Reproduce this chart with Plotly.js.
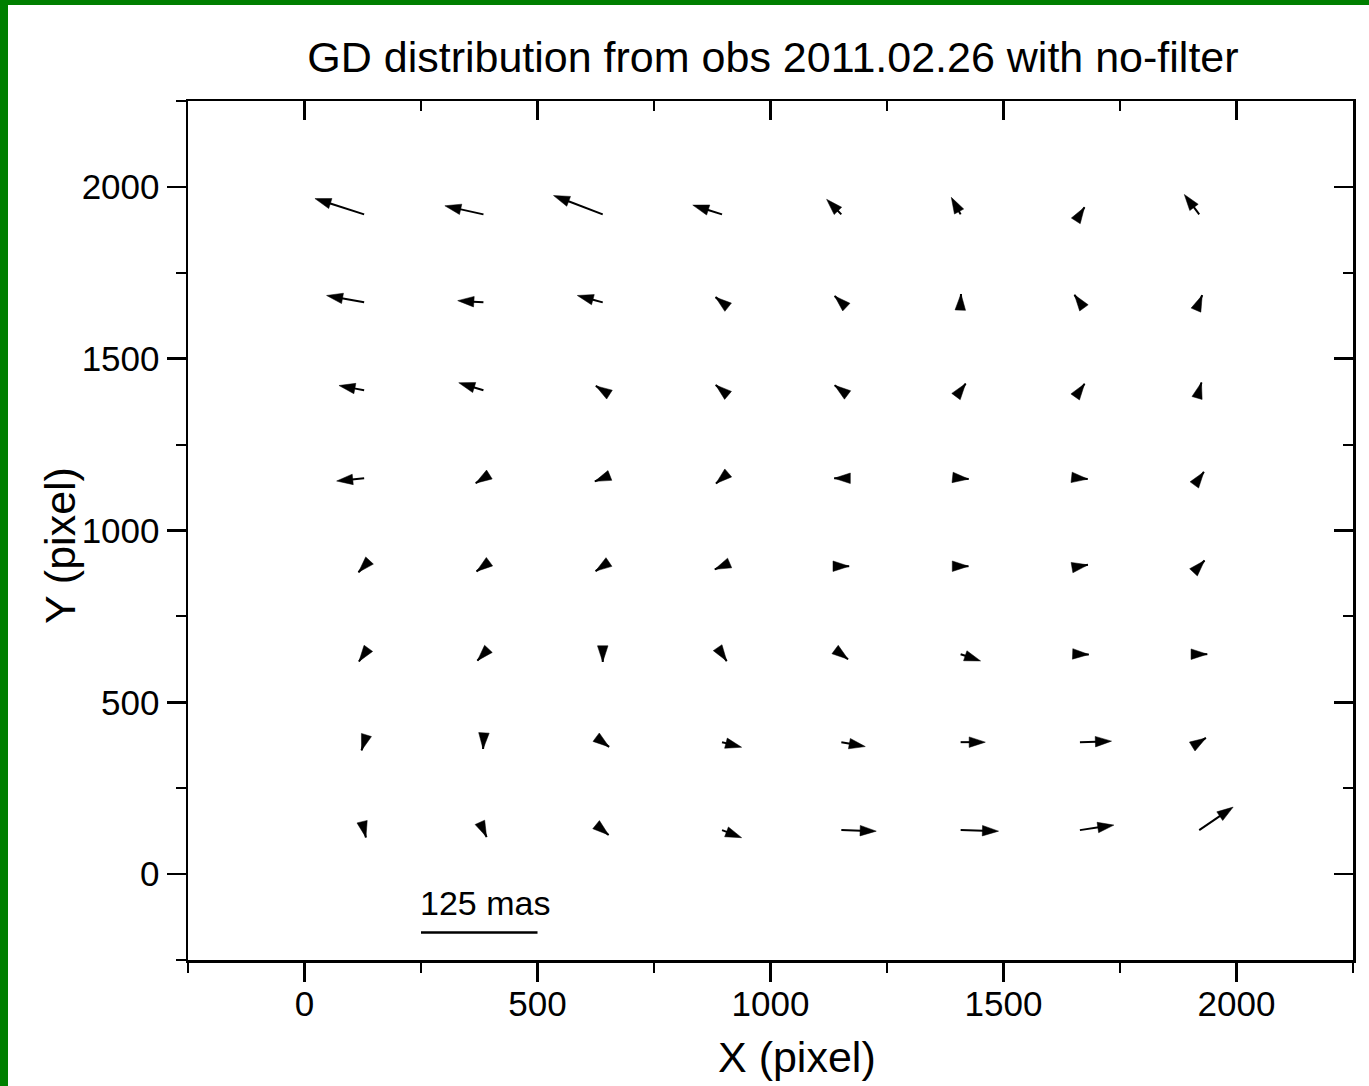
<!DOCTYPE html>
<html>
<head>
<meta charset="utf-8">
<script src="https://cdn.plot.ly/plotly-3.0.1.min.js"></script>
<style>
  html, body { margin: 0; padding: 0; background: #ffffff; }
  #wrap { position: relative; width: 1369px; height: 1086px; overflow: hidden; background: #ffffff; }
  #chart { position: absolute; left: 0; top: 0; width: 1369px; height: 1086px; }
  #gl { position: absolute; left: 0; top: 0; width: 8px; height: 1086px; background: #007f00; }
  #gt { position: absolute; left: 0; top: 0; width: 1369px; height: 5px; background: #007f00; }
</style>
</head>
<body>
<div id="wrap">
  <div id="chart"></div>
  <div id="gl"></div>
  <div id="gt"></div>
</div>
<script>
// Grid of star-bin centres (pixel)
const gridX = [128, 384, 640, 896, 1152, 1408, 1664, 1920];
const gridY = [1920, 1664, 1408, 1152, 896, 640, 384, 128];

// Geometric distortion vectors (mas), one row per gridY value, one column per gridX value
const dxRow1920 = [-52.8, -41.4, -52.8, -31.4, -15.8, -10.0,  4.9, -16.0];
const dyRow1920 = [ 23.0,  12.5,  27.4,  13.5,  21.9,  24.8, 10.4,  29.0];
const dxRow1664 = [-40.3, -27.6, -27.3,  -7.0,  -7.2,   0.4, -5.9,   3.2];
const dyRow1664 = [ 10.0,   2.5,  10.0,   7.6,   9.3,  12.2, 11.0,  10.4];
const dxRow1408 = [-27.0, -26.5,  -7.4,  -6.8,  -7.2,   5.4,  5.0,   2.4];
const dyRow1408 = [  7.0,  11.0,   6.4,   7.8,   7.3,   9.8,  9.5,  11.5];
const dxRow1152 = [-29.5,  -8.3,  -8.5,  -6.5,  -7.7,   8.6,  8.3,   5.0];
const dyRow1152 = [ -4.0,  -7.1,  -4.5,  -7.6,   0.0,  -1.2, -1.2,   9.3];
const dxRow896  = [ -6.1,  -7.4,  -7.7,  -7.8,   8.4,   8.4,  8.6,   5.7];
const dyRow896  = [ -8.8,  -7.5,  -7.1,  -4.5,   0.0,   0.0,  2.0,   8.3];
const dxRow640  = [ -5.6,  -6.5,   0.0,   5.0,   7.2,  21.4,  9.5,   8.6];
const dyRow640  = [-10.6,  -9.4, -11.3, -10.0,  -7.3,  -9.8, -0.5,   0.0];
const dxRow384  = [ -2.8,  -0.4,   6.8,  21.0,  25.7,  26.5, 33.9,   7.2];
const dyRow384  = [-12.0, -10.0,  -6.9,  -7.4,  -6.4,   0.0,  1.5,   6.1];
const dxRow128  = [  1.9,   3.4,   6.3,  21.0,  37.5,  40.7, 36.4,  36.4];
const dyRow128  = [-10.6, -10.1,  -7.0, -11.0,  -1.5,  -1.5,  7.3,  33.5];

const dxRows = [dxRow1920, dxRow1664, dxRow1408, dxRow1152, dxRow896, dxRow640, dxRow384, dxRow128];
const dyRows = [dyRow1920, dyRow1664, dyRow1408, dyRow1152, dyRow896, dyRow640, dyRow384, dyRow128];

// Scale bar: 125 mas drawn as 250 pixel units
const scaleMas = 125;
const scaleBarX = [250, 500];
const scaleBarY = [-170, -170];
const scaleLabel = '125 mas';
const unitsPerMas = (scaleBarX[1] - scaleBarX[0]) / scaleMas;

const axisRange = [-250, 2250];
const titleText = 'GD distribution from obs 2011.02.26 with no-filter';
const xTitle = 'X (pixel)';
const yTitle = 'Y (pixel)';

// build arrow segments
const ax = [], ay = [], msize = [];
for (let r = 0; r < gridY.length; r++) {
  for (let c = 0; c < gridX.length; c++) {
    const x0 = gridX[c], y0 = gridY[r];
    const x1 = x0 + dxRows[r][c] * unitsPerMas;
    const y1 = y0 + dyRows[r][c] * unitsPerMas;
    ax.push(x0, x1, null);
    ay.push(y0, y1, null);
    msize.push(0, 17, 0);
  }
}

const FONT = 'Arial, "Liberation Sans", Helvetica, sans-serif';

const traces = [
  {
    type: 'scatter', mode: 'lines+markers',
    x: ax, y: ay,
    line: {color: '#000000', width: 2},
    marker: {symbol: 'arrow', angleref: 'previous', size: msize, color: '#000000', opacity: 1, line: {width: 0.5, color: '#000000'}},
    connectgaps: false, hoverinfo: 'skip', showlegend: false
  },
  {
    type: 'scatter', mode: 'lines',
    x: scaleBarX, y: scaleBarY,
    line: {color: '#000000', width: 2.5},
    hoverinfo: 'skip', showlegend: false
  },
  // empty trace so the top/right mirror axes are drawn
  {type: 'scatter', mode: 'markers', x: [], y: [], xaxis: 'x2', yaxis: 'y2', hoverinfo: 'skip', showlegend: false}
];

const axCommon = {
  range: axisRange, autorange: false, showgrid: false, zeroline: false,
  showline: true, linecolor: '#000000', linewidth: 2.5,
  tickcolor: '#000000', tickwidth: 2.5, ticklen: 19,
  tick0: 0, dtick: 500,
  minor: {ticks: 'outside', ticklen: 10, tickwidth: 2, tickcolor: '#000000', dtick: 250, tick0: 0},
  tickfont: {family: FONT, size: 35, color: '#000000'}
};

const layout = {
  width: 1369, height: 1086,
  paper_bgcolor: 'rgba(0,0,0,0)', plot_bgcolor: '#ffffff',
  margin: {l: 188, r: 16, t: 101, b: 126},
  showlegend: false,
  title: {text: titleText,
          font: {family: FONT, size: 43, color: '#000000'},
          x: 0.5646, xanchor: 'center', y: 0.9475, yanchor: 'middle'},
  xaxis: Object.assign({}, axCommon, {ticks: 'outside', ticklabelstandoff: -8}),
  yaxis: Object.assign({}, axCommon, {ticks: 'outside'}),
  xaxis2: Object.assign({}, axCommon, {
    overlaying: 'x', side: 'top', ticks: 'inside', showticklabels: false,
    minor: {ticks: 'inside', ticklen: 10, tickwidth: 2, tickcolor: '#000000', dtick: 250, tick0: 0}
  }),
  yaxis2: Object.assign({}, axCommon, {
    overlaying: 'y', side: 'right', ticks: 'inside', showticklabels: false,
    minor: {ticks: 'inside', ticklen: 10, tickwidth: 2, tickcolor: '#000000', dtick: 250, tick0: 0}
  }),
  annotations: [
    {x: scaleBarX[0] - 6, y: -84, xref: 'x', yref: 'y', text: scaleLabel, showarrow: false,
     xanchor: 'left', yanchor: 'middle', font: {family: FONT, size: 34, color: '#000000'}},
    {x: 0.5227, y: -0.1129, xref: 'paper', yref: 'paper', text: xTitle, showarrow: false,
     xanchor: 'center', yanchor: 'middle', font: {family: FONT, size: 43, color: '#000000'}},
    {x: -0.1099, y: 0.4831, xref: 'paper', yref: 'paper', text: yTitle, showarrow: false, textangle: -90,
     xanchor: 'center', yanchor: 'middle', font: {family: FONT, size: 43, color: '#000000'}}
  ]
};

Plotly.newPlot('chart', traces, layout, {displayModeBar: false, staticPlot: true});
</script>
</body>
</html>
